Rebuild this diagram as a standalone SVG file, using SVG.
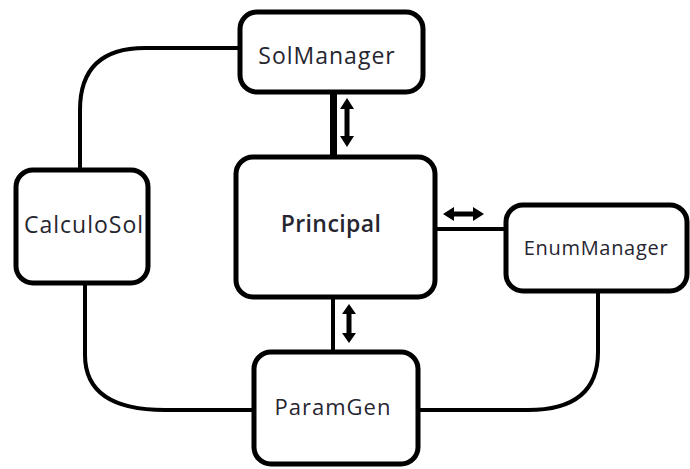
<svg xmlns="http://www.w3.org/2000/svg" width="690" height="469" viewBox="0 0 690 469">
<style>
.box{fill:#fff;stroke:#000;stroke-width:5}
.lbl{font-family:"Open Sans","Liberation Sans",sans-serif;fill:#262630;text-anchor:middle}
.con{fill:none;stroke:#000;stroke-width:4}
.arr{fill:#000}
</style>
<rect width="690" height="469" fill="#fff"/>
<g id="connectors">
<path class="con" d="M240,48 H145 Q80,48 80,110 V170"/>
<path class="con" d="M85,283 V355 Q85,410 165,410 H254"/>
<path class="con" d="M418,410 H528 Q598,410 598,352 V291"/>
<path class="con" d="M333.5,92 V157" style="stroke-width:7"/>
<path class="con" d="M435,229 H506"/>
<path class="con" d="M333,297 V352"/>
<polygon class="arr" points="347,98 354,109 349.5,109 349.5,136 354,136 347,147 340,136 344.5,136 344.5,109 340,109"/>
<polygon class="arr" points="443,214 454,207 454,211.5 473,211.5 473,207 484,214 473,221 473,216.5 454,216.5 454,221"/>
<polygon class="arr" points="349,304 356,314 351.5,314 351.5,333 356,333 349,343 342,333 346.5,333 346.5,314 342,314"/>
</g>
<g id="SolManager">
<rect class="box" x="240" y="12" width="183" height="80" rx="17"/>
<text class="lbl" x="327" y="64" font-size="23" letter-spacing="1">SolManager</text>
</g>
<g id="CalculoSol">
<rect class="box" x="16" y="170" width="132" height="113" rx="17"/>
<text class="lbl" x="84" y="233" font-size="23" letter-spacing="1">CalculoSol</text>
</g>
<g id="Principal">
<rect class="box" x="236" y="157" width="199" height="140" rx="17"/>
<text class="lbl" x="331" y="232" font-size="23" font-weight="600" letter-spacing="0.4">Principal</text>
</g>
<g id="EnumManager">
<rect class="box" x="506" y="205" width="181" height="86" rx="17"/>
<text class="lbl" x="596" y="255" font-size="20" letter-spacing="0.7">EnumManager</text>
</g>
<g id="ParamGen">
<rect class="box" x="254" y="352" width="164" height="112" rx="17"/>
<text class="lbl" x="333" y="415" font-size="22" letter-spacing="1">ParamGen</text>
</g>
</svg>
